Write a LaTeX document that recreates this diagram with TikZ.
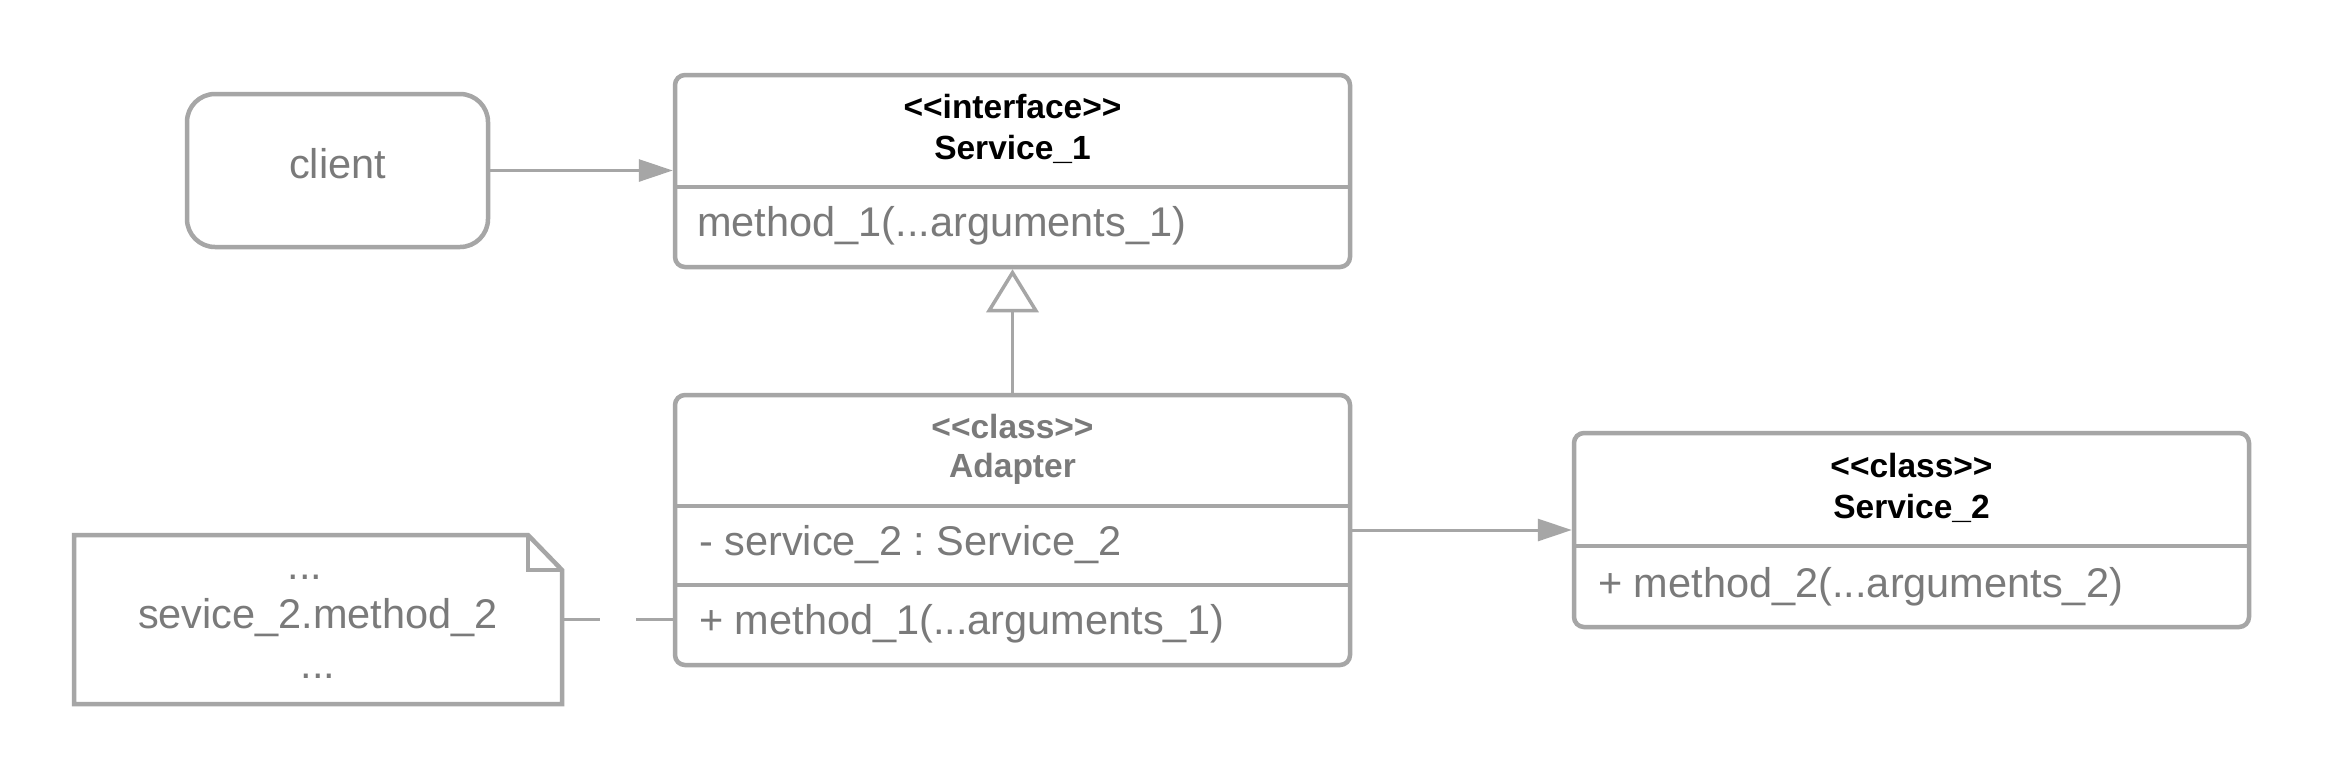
\documentclass[tikz,border=0pt]{standalone}
\usepackage{fontspec}
\setmainfont{Liberation Sans}
\usetikzlibrary{arrows.meta}
\definecolor{lg}{RGB}{166,166,166}
\definecolor{tg}{RGB}{122,122,122}
\begin{document}
\begin{tikzpicture}[x=1pt,y=-1pt,
 box/.style={draw=lg, line width=4.5pt, rounded corners=10pt, anchor=center, inner sep=0pt, fill=white},
 divider/.style={draw=lg, line width=4.5pt},
 conn/.style={draw=lg, line width=3pt},
 body/.style={font=\fontsize{41.5pt}{50pt}\selectfont\frenchspacing, text=tg, inner sep=0pt, anchor=base},
 bodyw/.style={body, anchor=base west},
 head/.style={font=\fontsize{33.5pt}{40pt}\selectfont\bfseries, inner sep=0pt, anchor=base},
]
\useasboundingbox (0,0) rectangle (2325,780);
\fill[white] (0,0) rectangle (2325,780);

% client
\node[box, rounded corners=28pt, minimum width=301pt, minimum height=153pt] (client) at (337.5,170.5) {};
\node[body] (clientt) at (337.5,178.5) {client};

% Service_1
\node[box, minimum width=675pt, minimum height=192pt] (s1) at (1012.5,171) {};
\draw[divider] (675,187) -- (1350,187);
\node[head] (s1a) at (1012.5,118) {<{}<interface>{}>};
\node[head] (s1b) at (1012.5,159) {Service\_1};
\node[bodyw] (s1m) at (697,236) {method\_1(...arguments\_1)};

% Adapter
\node[box, minimum width=675pt, minimum height=270pt] (ad) at (1012.5,530) {};
\draw[divider] (675,506) -- (1350,506);
\draw[divider] (675,585) -- (1350,585);
\node[head, text=tg] (ada) at (1012.5,438) {<{}<class>{}>};
\node[head, text=tg] (adb) at (1012.5,477) {Adapter};
\node[bodyw] (adf) at (699,555.5) {- service\_2 : Service\_2};
\node[bodyw] (adm) at (699,634) {+ method\_1(...arguments\_1)};

% Service_2
\node[box, minimum width=675pt, minimum height=194pt] (s2) at (1911.5,530) {};
\draw[divider] (1574,546) -- (2249,546);
\node[head] (s2a) at (1911.5,477) {<{}<class>{}>};
\node[head] (s2b) at (1911.5,518.5) {Service\_2};
\node[bodyw] (s2m) at (1598,597) {+ method\_2(...arguments\_2)};

% note
\node[minimum width=488pt, minimum height=169pt, anchor=north west, inner sep=0pt, outer sep=0pt] (note) at (74,535) {};
\draw[lg, line width=4.5pt, line join=miter] (note.north west) -- (528,535) -- (562,570) -- (note.south east) -- (note.south west) -- cycle;
\draw[lg, line width=4.5pt] (528,535) -- (528,570) -- (562,570);
\node[body] (n1) at (305,579) {...};
\node[body] (n2) at (318,628) {sevice\_2.method\_2};
\node[body] (n3) at (318,678) {...};

% connectors
\draw[conn, -{Triangle[length=34pt,width=22pt]}] (client.east) -- (client.east -| s1.west);
\draw[conn, -{Triangle[open, length=43pt, width=52pt, line width=3.5pt]}] (ad.north) -- (s1.south);
\draw[conn, -{Triangle[length=34pt,width=22pt]}] (ad.east) -- (ad.east -| s2.west);
\draw[conn, dash pattern=on 38pt off 36pt] (note.east) -- (note.east -| ad.west);
\end{tikzpicture}
\end{document}
